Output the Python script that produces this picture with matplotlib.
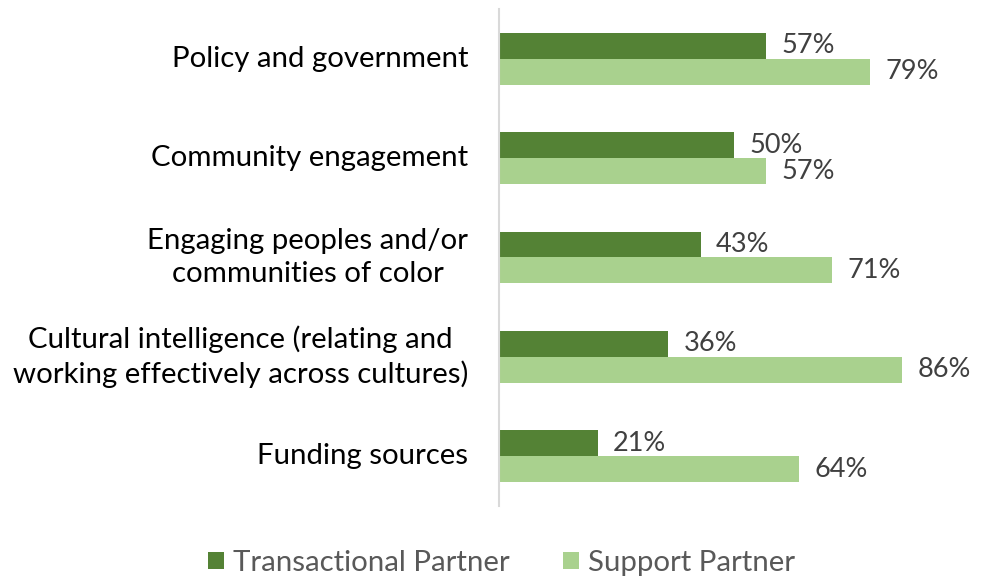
import matplotlib
matplotlib.use("Agg")
import matplotlib.pyplot as plt
import numpy as np

plt.rcParams['font.family'] = ['Lato', 'DejaVu Sans']

categories = [
    "Policy and government",
    "Community engagement",
    "Engaging peoples and/or\ncommunities of color",
    "Cultural intelligence (relating and\nworking effectively across cultures)",
    "Funding sources",
]
transactional = [57, 50, 43, 36, 21]
support = [79, 57, 71, 86, 64]
series_names = ["Transactional Partner", "Support Partner"]
colors = ["#548235", "#A9D18E"]

fig = plt.figure(figsize=(9.87, 5.79), dpi=100)
ax = fig.add_axes([0.5056, 0.1261, 0.4752, 0.8584])

y = np.arange(len(categories))
h = 0.26
b1 = ax.barh(y - h / 2, transactional, height=h, color=colors[0], label=series_names[0])
b2 = ax.barh(y + h / 2, support, height=h, color=colors[1], label=series_names[1])

for bars, vals in ((b1, transactional), (b2, support)):
    for bar, v in zip(bars, vals):
        ax.text(v + 3.3, bar.get_y() + bar.get_height() / 2, f"{v}%",
                va="center", ha="left", fontsize=19.5, color="#404040")

ax.set_xlim(0, 100)
ax.set_ylim(len(categories) - 0.5, -0.5)
ax.set_xticks([])
ax.set_yticks([])
for s in ("top", "right", "bottom"):
    ax.spines[s].set_visible(False)
ax.spines["left"].set_color("#D9D9D9")
ax.spines["left"].set_linewidth(1.5)

for yi, cat in zip(y, categories):
    ax.text(-6.6, yi, cat, ha="right", va="center", multialignment="center",
            fontsize=21.2, color="#000000", linespacing=1.3)

fig.legend(handles=[b1, b2], labels=series_names, loc="center",
           bbox_to_anchor=(0.508, 0.028), ncol=2, frameon=False,
           fontsize=21.2, handlelength=0.55, handleheight=0.55, handletextpad=0.3,
           columnspacing=1.8, labelcolor="#595959")

fig.savefig("out.png", dpi=100, facecolor="white")
